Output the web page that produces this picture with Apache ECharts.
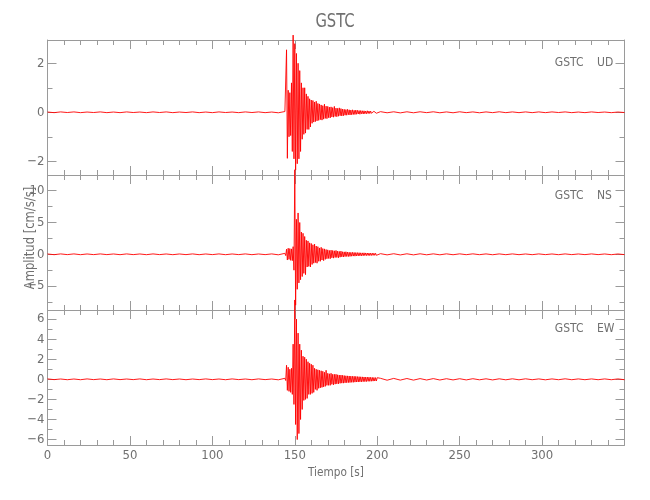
<!DOCTYPE html>
<html>
<head>
<meta charset="utf-8">
<script src="https://cdn.jsdelivr.net/npm/echarts@6/dist/echarts.min.js"></script>
<style>html,body{margin:0;padding:0;background:#fff}#chart{width:650px;height:500px}</style>
</head>
<body>
<div id="chart"></div>
<script>
// ---------------- data ----------------
const stationName = 'GSTC';
const componentNames = ['UD', 'NS', 'EW'];
const xTitle = 'Tiempo [s]';
const yTitle = 'Amplitud [cm/s/s]';

const timeMin = 0, timeMax = 350, timeStep = 50;

// sample grids (seconds)
const leadStart = 0, leadStep = 4;      // 0 .. 140 s
const eventStart = 144, eventStep = 0.5; // 144 .. 200 s
const tailStart = 202, tailStep = 4;    // 202 .. 350 s

// UD component
const udRange = [-2.56, 2.95];
const udLabels = [-2, 0, 2];
const udMinor = [-1, 1];
const udLead = [0.01,-0.015,0.015,-0.01,0.015,-0.015,0.01,-0.01,0.015,-0.015,0.01,-0.015,0.015,-0.01,0.01,-0.015,0.015,-0.01,0.015,-0.015,0.01,-0.01,0.015,-0.015,0.01,-0.015,0.015,-0.01,0.01,-0.015,0.015,-0.01,0.015,-0.015,0.01,-0.02];
const udEvent = [0.03,-0.04,2.55,-1.88,0.9,-1.0,0.8,-0.95,1.2,-1.6,
  3.15,-1.9,2.8,-2.36,2.4,-2.1,2.0,-1.9,1.7,-1.6,
  1.2,-1.1,1.0,-0.9,1.0,-0.85,0.75,-0.7,0.65,-0.7,
  0.55,-0.6,0.5,-0.45,0.48,-0.4,0.42,-0.38,0.45,-0.35,
  0.36,-0.33,0.34,-0.3,0.3,-0.32,0.27,-0.28,0.33,-0.25,
  0.25,-0.26,0.24,-0.22,0.21,-0.23,0.22,-0.19,0.19,-0.2,
  0.24,-0.17,0.17,-0.18,0.16,-0.16,0.18,-0.14,0.15,-0.15,
  0.13,-0.14,0.12,-0.12,0.11,-0.12,0.12,-0.1,0.1,-0.11,
  0.09,-0.1,0.1,-0.09,0.08,-0.09,0.09,-0.08,0.08,-0.07,
  0.07,-0.08,0.07,-0.06,0.06,-0.07,0.06,-0.06,0.05,-0.06,
  0.06,-0.05,0.05,-0.05,0.05,-0.04,0.04,-0.05,0.04,-0.04,
  0.04,-0.04,0.03];
const udTail = [0.025,-0.02,0.02,-0.025,0.02,-0.02,0.02,-0.015,0.02,-0.02,0.015,-0.02,0.02,-0.015,0.015,-0.02,0.015,-0.015,0.02,-0.015,0.015,-0.015,0.015,-0.015,0.015,-0.015,0.015,-0.01,0.015,-0.015,0.01,-0.015,0.015,-0.01,0.01,-0.015,0.01,-0.01];

// NS component
const nsRange = [-8.76, 12.47];
const nsLabels = [-5, 0, 5, 10];
const nsMinor = [-7.5, -2.5, 2.5, 7.5];
const nsLead = [0.05,-0.06,0.06,-0.05,0.06,-0.06,0.05,-0.05,0.06,-0.05,0.05,-0.06,0.06,-0.05,0.05,-0.06,0.06,-0.05,0.05,-0.06,0.05,-0.05,0.06,-0.06,0.05,-0.05,0.06,-0.06,0.05,-0.05,0.06,-0.06,0.05,-0.05,0.06,-0.08];
const nsEvent = [0.15,-0.2,0.8,-0.9,0.95,-0.8,0.9,-0.95,0.85,-1.0,
  1.2,-2.5,13.3,-8.0,5.5,-5.5,6.5,-4.5,5.0,-4.0,
  3.5,-3.5,3.3,-3.0,2.8,-3.2,2.2,-2.0,2.1,-1.9,
  1.8,-2.0,1.7,-1.6,1.5,-1.4,1.6,-1.3,1.3,-1.4,
  1.2,-1.1,1.0,-1.1,1.1,-0.9,0.9,-1.0,0.85,-0.8,
  0.75,-0.7,0.7,-0.65,0.6,-0.7,0.65,-0.55,0.6,-0.6,
  0.55,-0.5,0.6,-0.5,0.5,-0.55,0.45,-0.45,0.5,-0.4,
  0.4,-0.42,0.38,-0.36,0.4,-0.34,0.35,-0.35,0.32,-0.33,
  0.3,-0.3,0.31,-0.28,0.28,-0.29,0.27,-0.26,0.26,-0.25,
  0.25,-0.24,0.23,-0.24,0.22,-0.22,0.23,-0.2,0.21,-0.2,
  0.2,-0.19,0.19,-0.2,0.18,-0.18,0.18,-0.17,0.17,-0.16,
  0.16,-0.16,0.15];
const nsTail = [0.1,-0.09,0.09,-0.1,0.08,-0.09,0.08,-0.08,0.07,-0.08,0.07,-0.07,0.07,-0.06,0.07,-0.06,0.06,-0.07,0.06,-0.06,0.06,-0.06,0.05,-0.06,0.06,-0.05,0.05,-0.06,0.06,-0.05,0.05,-0.05,0.06,-0.05,0.05,-0.06,0.05,-0.05];

// EW component
const ewRange = [-6.54, 6.9];
const ewLabels = [-6, -4, -2, 0, 2, 4, 6];
const ewMinor = [-5, -3, -1, 1, 3, 5];
const ewLead = [0.04,-0.03,0.03,-0.04,0.03,-0.04,0.04,-0.03,0.03,-0.04,0.04,-0.03,0.03,-0.03,0.04,-0.04,0.03,-0.03,0.04,-0.03,0.03,-0.04,0.03,-0.03,0.04,-0.03,0.03,-0.04,0.04,-0.03,0.03,-0.04,0.04,-0.03,0.03,-0.05];
const ewEvent = [0.1,-0.12,1.4,-1.1,1.2,-1.2,1.0,-1.3,1.1,-1.5,
  3.5,-2.5,7.9,-4.5,6.0,-6.0,4.6,-5.4,3.5,-4.0,
  2.9,-3.0,2.3,-2.1,2.2,-2.0,2.0,-1.9,1.75,-1.5,
  1.6,-1.5,1.5,-1.4,1.4,-1.3,1.1,-1.0,1.0,-1.1,
  0.95,-0.9,0.9,-0.85,0.85,-0.8,0.8,-0.75,0.7,-0.7,
  0.9,-0.6,0.6,-0.6,0.55,-0.6,0.6,-0.5,0.5,-0.55,
  0.5,-0.48,0.5,-0.45,0.45,-0.45,0.42,-0.4,0.42,-0.38,
  0.4,-0.38,0.37,-0.35,0.35,-0.34,0.34,-0.33,0.33,-0.32,
  0.32,-0.3,0.3,-0.3,0.3,-0.28,0.29,-0.27,0.27,-0.27,
  0.26,-0.25,0.25,-0.25,0.24,-0.23,0.23,-0.23,0.22,-0.22,
  0.22,-0.2,0.21,-0.2,0.2,-0.19,0.19,-0.18,0.18,-0.17,
  0.17,-0.17,0.16];
const ewTail = [0.1,-0.09,0.09,-0.08,0.08,-0.08,0.07,-0.07,0.07,-0.07,0.06,-0.06,0.06,-0.06,0.06,-0.05,0.05,-0.06,0.05,-0.05,0.05,-0.05,0.05,-0.04,0.04,-0.05,0.04,-0.04,0.05,-0.04,0.04,-0.04,0.04,-0.04,0.04,-0.04,0.04,-0.04];

// ---------------- build ----------------
function buildTrace(lead, ev, tail) {
  const pts = [];
  lead.forEach((v, i) => pts.push([leadStart + i * leadStep, v]));
  ev.forEach((v, i) => pts.push([eventStart + i * eventStep, v]));
  tail.forEach((v, i) => pts.push([tailStart + i * tailStep, v]));
  return pts;
}

const panels = [
  { range: udRange, labels: udLabels, minor: udMinor, data: buildTrace(udLead, udEvent, udTail) },
  { range: nsRange, labels: nsLabels, minor: nsMinor, data: buildTrace(nsLead, nsEvent, nsTail) },
  { range: ewRange, labels: ewLabels, minor: ewMinor, data: buildTrace(ewLead, ewEvent, ewTail) }
];

const FONT = '"Liberation Sans Narrow", "DejaVu Sans Condensed", "Roboto Condensed", sans-serif';
const AXIS_COLOR = '#9a9a9a';
const TEXT_COLOR = '#707070';
const gridLeft = 47.5, gridWidth = 577, gridTop0 = 40, gridH = 135;

const grid = [], xAxis = [], yAxis = [], series = [];
const minusFmt = v => String(v).replace('-', '\u2212');

panels.forEach((p, i) => {
  grid.push({ left: gridLeft, width: gridWidth, top: gridTop0 + i * gridH, height: gridH });
  ['bottom', 'top'].forEach(pos => {
    xAxis.push({
      type: 'value', gridIndex: i, position: pos,
      min: timeMin, max: timeMax, interval: timeStep,
      axisLine: { show: true, onZero: false, lineStyle: { color: AXIS_COLOR, width: 1 } },
      axisTick: { show: true, inside: true, length: 9, lineStyle: { color: AXIS_COLOR } },
      minorTick: { show: true, splitNumber: 5, length: 5, lineStyle: { color: AXIS_COLOR } },
      axisLabel: {
        show: pos === 'bottom' && i === panels.length - 1,
        showMaxLabel: false, margin: 4,
        color: TEXT_COLOR, fontFamily: FONT, fontSize: 13
      },
      splitLine: { show: false }
    });
  });
  ['left', 'right'].forEach(pos => {
    [true, false].forEach(major => {
      yAxis.push({
        type: 'value', gridIndex: i, position: pos,
        min: p.range[0], max: p.range[1],
        axisLine: { show: major, onZero: false, lineStyle: { color: AXIS_COLOR, width: 1 } },
        axisTick: {
          show: true, inside: true, length: major ? 9 : 5,
          customValues: major ? p.labels : p.minor,
          lineStyle: { color: AXIS_COLOR }
        },
        axisLabel: {
          show: major && pos === 'left',
          customValues: p.labels,
          formatter: minusFmt, margin: 3,
          color: TEXT_COLOR, fontFamily: FONT, fontSize: 13
        },
        splitLine: { show: false }
      });
    });
  });
  series.push({
    type: 'line', xAxisIndex: 2 * i, yAxisIndex: 4 * i,
    data: p.data, showSymbol: false, symbol: 'none', clip: false,
    sampling: null, animation: false,
    lineStyle: { color: '#ff0000', width: 0.9 }, z: 1
  });
});

const graphic = [
  { type: 'text', x: 335, y: 22, scaleX: 0.82, style: { text: stationName, fontSize: 20, fontFamily: FONT, fill: TEXT_COLOR, align: 'center', verticalAlign: 'middle' } },
  { type: 'text', x: 336, y: 473, scaleX: 0.9, style: { text: xTitle, fontSize: 13, fontFamily: FONT, fill: TEXT_COLOR, align: 'center', verticalAlign: 'middle' } },
  { type: 'text', x: 30, y: 238, rotation: Math.PI / 2, scaleX: 0.92, style: { text: yTitle, fontSize: 14, fontFamily: FONT, fill: TEXT_COLOR, align: 'center', verticalAlign: 'middle' } }
];
const compY = [62.5, 196, 329];
componentNames.forEach((c, i) => {
  graphic.push({ type: 'text', x: 583.5, y: compY[i], style: { text: stationName, fontSize: 12, fontFamily: FONT, fill: TEXT_COLOR, align: 'right', verticalAlign: 'middle' } });
  graphic.push({ type: 'text', x: 597, y: compY[i], style: { text: c, fontSize: 12, fontFamily: FONT, fill: TEXT_COLOR, align: 'left', verticalAlign: 'middle' } });
});

const chart = echarts.init(document.getElementById('chart'), null, { renderer: 'canvas' });
chart.setOption({
  animation: false,
  backgroundColor: '#ffffff',
  grid, xAxis, yAxis, series, graphic
});
</script>
</body>
</html>
